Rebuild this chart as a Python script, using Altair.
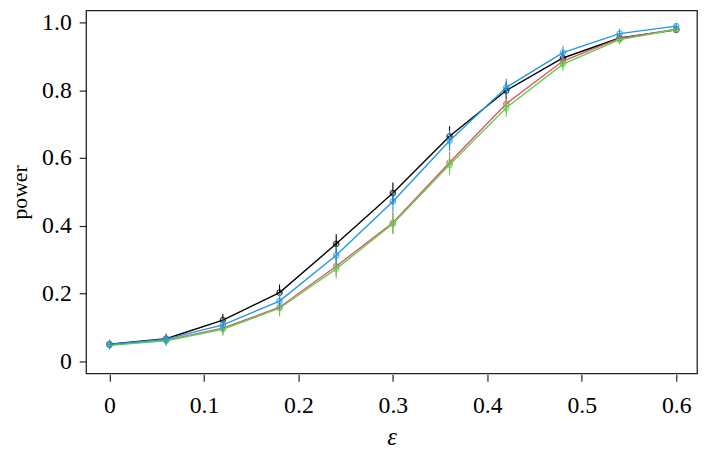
import altair as alt
import pandas as pd

eps = [0, 0.06, 0.12, 0.18, 0.24, 0.30, 0.36, 0.42, 0.48, 0.54, 0.60]
black = [0.051, 0.067, 0.122, 0.203, 0.347, 0.497, 0.664, 0.799, 0.895, 0.954, 0.978]
red = [0.049, 0.063, 0.098, 0.160, 0.281, 0.409, 0.587, 0.760, 0.886, 0.953, 0.980]
green = [0.048, 0.061, 0.095, 0.157, 0.273, 0.406, 0.580, 0.748, 0.877, 0.949, 0.979]
blue = [0.050, 0.066, 0.108, 0.178, 0.313, 0.472, 0.651, 0.808, 0.911, 0.967, 0.989]
halfwidth = [0.013, 0.015, 0.019, 0.024, 0.028, 0.031, 0.030, 0.026, 0.020, 0.014, 0.009]

series = [("black", black, "#000000"), ("red", red, "#DF536B"),
          ("green", green, "#61D04F"), ("blue", blue, "#2297E6")]

SERIF = "Liberation Serif, Times New Roman, serif"

xs = alt.Scale(domain=[-0.0248, 0.622], nice=False, zero=False)
ys = alt.Scale(domain=[-0.035, 1.035], nice=False, zero=False)

xaxis = alt.Axis(values=[0, 0.1, 0.2, 0.3, 0.4, 0.5, 0.6],
                 labelExpr="datum.value == 0 ? '0' : format(datum.value, '.1f')",
                 title="ε", titleFontStyle="italic", titleFontSize=25,
                 titleFont=SERIF, titleFontWeight="normal",
                 titleColor="black", titlePadding=7, labelPadding=13, offset=1)
yaxis = alt.Axis(values=[0, 0.2, 0.4, 0.6, 0.8, 1.0],
                 labelExpr="datum.value == 0 ? '0' : format(datum.value, '.1f')",
                 title="power", titleFontSize=22, titleFont=SERIF,
                 titleFontWeight="normal", titleColor="black", titlePadding=10,
                 labelPadding=8)

X = alt.X("eps:Q", scale=xs, axis=xaxis, title="ε")
Y = alt.Y("power:Q", scale=ys, axis=yaxis, title="power")
YLO = alt.Y("lo:Q", scale=ys, axis=yaxis, title="power")

layers = []
for name, vals, col in series:
    df = pd.DataFrame({"eps": eps, "power": vals,
                       "lo": [v - h for v, h in zip(vals, halfwidth)],
                       "hi": [v + h for v, h in zip(vals, halfwidth)]})
    base = alt.Chart(df)
    line = base.mark_line(color=col, strokeWidth=1.4).encode(x=X, y=Y)
    err = base.mark_rule(color=col, strokeWidth=1.1).encode(x=X, y=YLO, y2="hi:Q")
    pts = base.mark_point(color=col, shape="circle", filled=False, size=30,
                          strokeWidth=1.2).encode(x=X, y=Y)
    plus = base.mark_point(color=col, shape="M-1,0L1,0M0,-1L0,1", filled=False,
                           size=25, strokeWidth=1).encode(x=X, y=Y)
    layers += [line, err, pts, plus]

chart = alt.layer(*layers).properties(
    width=618, height=367,
    autosize=alt.AutoSizeParams(type="none"),
    padding={"left": 79, "top": 0, "right": 3, "bottom": 76},
).configure_view(stroke="#222222", strokeWidth=1.3).configure_axis(
    grid=False, domain=False, ticks=True, tickSize=7, tickColor="#222222",
    tickWidth=1.2, labelFont=SERIF, labelFontSize=24,
    labelColor="black", labelFlush=False, labelOverlap=False)

chart.save("out.html", embed_options={"renderer": "svg", "actions": False})
